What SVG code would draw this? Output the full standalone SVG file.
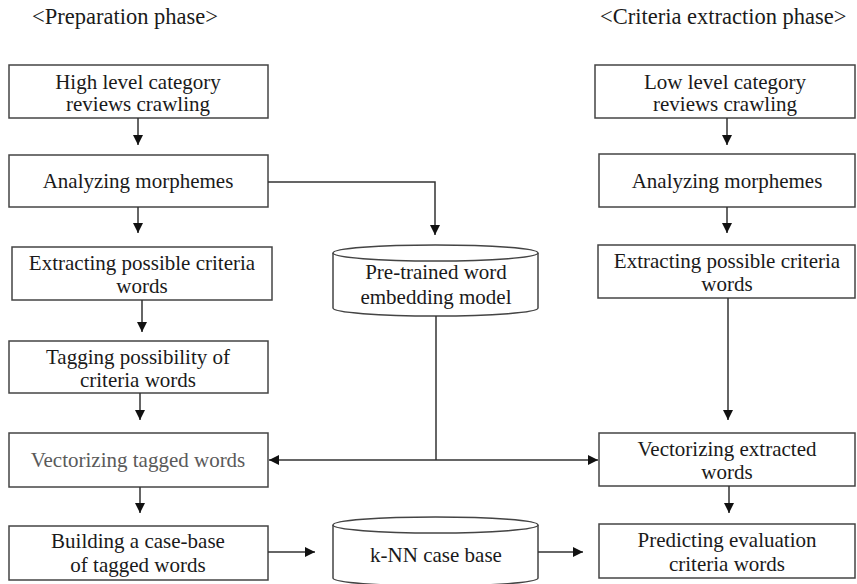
<svg xmlns="http://www.w3.org/2000/svg" width="857" height="584" viewBox="0 0 857 584">
<style>
.box{fill:#fff;stroke:#444;stroke-width:1.5}
.t{font-family:"Liberation Serif","Times New Roman",serif;font-size:21px;fill:#1a1a1a;text-anchor:middle}
.g{fill:#5a5a5a}
.h{font-family:"Liberation Serif","Times New Roman",serif;font-size:22.5px;fill:#1a1a1a}
.c{fill:none;stroke:#333;stroke-width:1.5}
</style>
<defs>
<marker id="a" viewBox="0 0 10 10" refX="10" refY="5" markerWidth="10" markerHeight="10" markerUnits="userSpaceOnUse" orient="auto">
<path d="M0,0L10,5L0,10z" fill="#111"/>
</marker>
</defs>
<rect width="857" height="584" fill="#fff"/>
<text class="h" x="32" y="24">&lt;Preparation phase&gt;</text>
<text class="h" x="600" y="24">&lt;Criteria extraction phase&gt;</text>

<g id="n1"><rect class="box" x="9" y="65" width="259" height="53"/><text class="t" x="138" y="89">High level category</text><text class="t" x="138" y="111">reviews crawling</text></g>
<g id="n2"><rect class="box" x="9" y="155" width="259" height="52"/><text class="t" x="138" y="188">Analyzing morphemes</text></g>
<g id="n3"><rect class="box" x="12" y="247" width="260" height="53"/><text class="t" x="142" y="270">Extracting possible criteria</text><text class="t" x="142" y="293">words</text></g>
<g id="n4"><rect class="box" x="9" y="341" width="259" height="52"/><text class="t" x="138" y="364">Tagging possibility of</text><text class="t" x="138" y="387">criteria words</text></g>
<g id="n5"><rect class="box" x="9" y="433" width="259" height="54"/><text class="t g" x="138" y="467">Vectorizing tagged words</text></g>
<g id="n6"><rect class="box" x="9" y="526" width="259" height="54"/><text class="t" x="138" y="548">Building a case-base</text><text class="t" x="138" y="572">of tagged words</text></g>

<g id="db1"><path class="box" d="M333,253 L333,308 A102.5,8 0 0 0 538,308 L538,253"/><ellipse class="box" cx="435.5" cy="253" rx="102.5" ry="8"/><text class="t" x="436" y="279">Pre-trained word</text><text class="t" x="436" y="304">embedding model</text></g>
<g id="db2"><path class="box" d="M333,525 L333,578 A102.5,8 0 0 0 538,578 L538,525"/><ellipse class="box" cx="435.5" cy="525" rx="102.5" ry="8"/><text class="t" x="436" y="562">k-NN case base</text></g>

<g id="r1"><rect class="box" x="595" y="65" width="260" height="53"/><text class="t" x="725" y="89">Low level category</text><text class="t" x="725" y="111">reviews crawling</text></g>
<g id="r2"><rect class="box" x="599" y="154" width="256" height="53"/><text class="t" x="727" y="188">Analyzing morphemes</text></g>
<g id="r3"><rect class="box" x="598" y="245" width="257" height="53"/><text class="t" x="727" y="268">Extracting possible criteria</text><text class="t" x="727" y="291">words</text></g>
<g id="r4"><rect class="box" x="599" y="433" width="256" height="53"/><text class="t" x="727" y="456">Vectorizing extracted</text><text class="t" x="727" y="479">words</text></g>
<g id="r5"><rect class="box" x="599" y="524" width="256" height="54"/><text class="t" x="727" y="547">Predicting evaluation</text><text class="t" x="727" y="571">criteria words</text></g>

<g id="connectors">
<path class="c" d="M138,118 V145" marker-end="url(#a)"/>
<path class="c" d="M138,207 V233" marker-end="url(#a)"/>
<path class="c" d="M142,300 V332" marker-end="url(#a)"/>
<path class="c" d="M140,393 V420" marker-end="url(#a)"/>
<path class="c" d="M140,487 V513" marker-end="url(#a)"/>
<path class="c" d="M268,182 H435 V235" marker-end="url(#a)"/>
<path class="c" d="M436,316 V460"/>
<path class="c" d="M436,460 H269" marker-end="url(#a)"/>
<path class="c" d="M436,460 H598" marker-end="url(#a)"/>
<path class="c" d="M268,552 H315" marker-end="url(#a)"/>
<path class="c" d="M538,552 H583" marker-end="url(#a)"/>
<path class="c" d="M727,118 V145" marker-end="url(#a)"/>
<path class="c" d="M727,207 V233" marker-end="url(#a)"/>
<path class="c" d="M728,298 V420" marker-end="url(#a)"/>
<path class="c" d="M729,486 V513" marker-end="url(#a)"/>
</g>
</svg>
